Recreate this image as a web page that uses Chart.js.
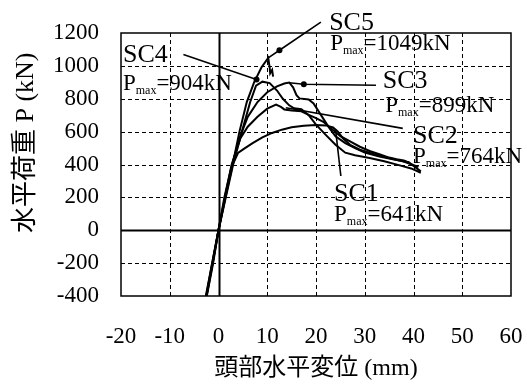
<!DOCTYPE html>
<html><head><meta charset="utf-8">
<script src="https://cdn.jsdelivr.net/npm/chart.js@4.4.1/dist/chart.umd.min.js"></script>
<style>html,body{margin:0;padding:0;background:#fff}</style>
</head><body>
<canvas id="c" width="527" height="389"></canvas>
<script>
// ---- data (mm, kN) ----
const xTicks = [-20, -10, 0, 10, 20, 30, 40, 50, 60];
const yTicks = [-400, -200, 0, 200, 400, 600, 800, 1000, 1200];
const specimens = ['SC1', 'SC2', 'SC3', 'SC4', 'SC5'];
const pMax = [641, 764, 899, 904, 1049];

const sc1 = [[-2.4,-395],[-1.2,-200],[0,0],[1.2,200],[2.6,380],[4,470],[5.2,495],[7,530],[9,565],[11,592],[13,612],[15,626],[17.5,636],[20,641],[22,638],[23.5,625],[24.5,600],[25.5,560],[27,520],[29,490],[32,462],[35,440],[38,418],[41,385]];
const sc2 = [[-2.5,-400],[-1.3,-200],[0,0],[1.3,200],[2.7,400],[4.5,560],[6,630],[8,690],[10,740],[11.8,764],[12.8,750],[13.5,735],[15,728],[17,724],[18.5,702],[20,682],[21.5,660],[23,622],[25,572],[27,540],[29,508],[31,482],[33,462],[35,442],[36.5,432],[38,424],[39.2,410]];
const sc3 = [[-2.5,-400],[-1.2,-200],[0,0],[1.4,200],[2.8,400],[4.3,560],[6,690],[8,780],[10,840],[12,875],[13.5,893],[14.5,899],[15.3,870],[16,822],[16.6,802],[18.5,796],[19.5,772],[21,702],[22.5,632],[24,572],[26,530],[28,500],[30,472],[33,448],[36,430],[39,414],[41.5,358]];
const sc4 = [[-2.4,-400],[-1.1,-200],[0,0],[1.5,200],[3,400],[4.8,600],[6.5,780],[7.7,880],[9,904],[10.5,895],[12,850],[13.2,800],[14.5,760],[15.5,742],[17,736],[18.5,700],[20,642],[22,580],[24,520],[26,472],[28,456],[31,440],[34,420],[37,396],[39.5,376],[41.5,350]];
const sc5 = [[-2.6,-400],[-1.3,-200],[0,0],[1.4,200],[2.9,400],[4.3,600],[5.8,780],[7.3,900],[8.8,990],[10.2,1049],[10.5,990],[10.6,955],[11.0,975],[11.2,935]];
const curves = [sc1, sc2, sc3, sc4, sc5];

// leader lines from the curves to the labels
const lead1 = [[24,615],[25.1,330]];
const lead2 = [[13.8,745],[37.8,620]];
const lead3 = [[14.5,897],[17.5,888],[32.3,882]];
const lead4 = [[-7.2,1069],[7.8,917]];
const lead5 = [[10.2,1049],[12.5,1095],[21,1266]];
const leaders = [lead1, lead2, lead3, lead4, lead5];
const leaderDots = [[0,0],[0,0],[0,3,0],[0,3],[0,3,0]];

// label anchors (left x, baseline y in data units): name line, Pmax line
const labelPlace = [
  [23.7, 179, 23.7, 57],
  [39.9, 533, 39.9, 411],
  [33.7, 868, 34.2, 722],
  [-19.6, 1026, -19.6, 856],
  [22.7, 1221, 22.9, 1099]
];

const toXY = a => a.map(p => ({x: p[0], y: p[1]}));
const SERIF = "'Liberation Serif','Times New Roman',serif";
const TITLEF = "'Liberation Serif','Noto Sans CJK JP',serif";

const datasets = [];
curves.forEach((c, i) => datasets.push({
  label: specimens[i], data: toXY(c), showLine: true, borderColor: '#000',
  borderWidth: 2, pointRadius: 0, tension: 0, fill: false
}));
leaders.forEach((l, i) => datasets.push({
  label: 'leader ' + specimens[i], data: toXY(l), showLine: true, borderColor: '#000',
  borderWidth: 1.6, pointRadius: leaderDots[i], pointBackgroundColor: '#000',
  pointBorderWidth: 0, clip: false, fill: false
}));

// grid drawn from the tick arrays through the chart's scales
const gridPlugin = {
  id: 'dashGrid',
  beforeDatasetsDraw(chart) {
    const {ctx, chartArea: a, scales: {x, y}} = chart;
    const line = (x1, y1, x2, y2, w, dash) => {
      ctx.save();
      ctx.strokeStyle = '#000';
      ctx.lineWidth = w;
      ctx.setLineDash(dash);
      ctx.beginPath(); ctx.moveTo(x1, y1); ctx.lineTo(x2, y2); ctx.stroke();
      ctx.restore();
    };
    xTicks.forEach(v => {
      const p = Math.round(x.getPixelForValue(v)) + 0.5;
      if (v === 0) line(p, a.top, p, a.bottom, 2, []);
      else if (v !== xTicks[0] && v !== xTicks[xTicks.length - 1]) line(p, a.top, p, a.bottom, 1, [4, 3]);
    });
    yTicks.forEach(v => {
      const p = Math.round(y.getPixelForValue(v)) + 0.5;
      if (v === 0) line(a.left, p, a.right, p, 2, []);
      else if (v !== yTicks[0] && v !== yTicks[yTicks.length - 1]) line(a.left, p, a.right, p, 1, [4, 3]);
    });
    ctx.save();
    ctx.strokeStyle = '#000'; ctx.lineWidth = 1.5; ctx.setLineDash([]);
    ctx.strokeRect(a.left, a.top, a.right - a.left, a.bottom - a.top);
    ctx.restore();
  }
};

const labelPlugin = {
  id: 'pmaxLabels',
  afterDatasetsDraw(chart) {
    const {ctx, scales: {x, y}} = chart;
    ctx.save();
    ctx.fillStyle = '#000';
    ctx.textBaseline = 'alphabetic';
    ctx.textAlign = 'left';
    specimens.forEach((name, i) => {
      const pl = labelPlace[i];
      ctx.font = '26px ' + SERIF;
      ctx.fillText(name, x.getPixelForValue(pl[0]), y.getPixelForValue(pl[1]));
      let px = x.getPixelForValue(pl[2]);
      const py = y.getPixelForValue(pl[3]);
      ctx.font = '23px ' + SERIF;
      ctx.fillText('P', px, py);
      px += ctx.measureText('P').width;
      ctx.font = '12px ' + SERIF;
      ctx.fillText('max', px, py + 4);
      px += ctx.measureText('max').width;
      ctx.font = '23px ' + SERIF;
      ctx.fillText('=' + pMax[i] + 'kN', px, py);
    });
    ctx.restore();
  }
};

new Chart(document.getElementById('c'), {
  type: 'scatter',
  data: {datasets},
  plugins: [gridPlugin, labelPlugin],
  options: {
    responsive: false, animation: false, devicePixelRatio: 1,
    layout: {padding: {top: 33, right: 16, left: 0, bottom: 0}},
    plugins: {legend: {display: false}, tooltip: {enabled: false}},
    scales: {
      x: {
        type: 'linear', min: xTicks[0], max: xTicks[xTicks.length - 1],
        afterFit: s => { s.height = 93; s.paddingLeft = 0; s.paddingRight = 0; },
        ticks: {stepSize: 10, color: '#000', padding: 27, font: {family: SERIF, size: 23}, callback: v => String(v)},
        grid: {display: false, drawTicks: false},
        border: {display: false},
        title: {display: true, text: '頭部水平変位 (mm)', color: '#000', font: {family: TITLEF, size: 24}, padding: {top: 0, bottom: 6}}
      },
      y: {
        type: 'linear', min: yTicks[0], max: yTicks[yTicks.length - 1],
        afterFit: s => { s.width = 121; s.paddingTop = 0; s.paddingBottom = 0; },
        ticks: {stepSize: 200, color: '#000', padding: 22, font: {family: SERIF, size: 23}, callback: v => String(v)},
        grid: {display: false, drawTicks: false},
        border: {display: false},
        title: {display: true, text: '水平荷重 P (kN)   ', color: '#000', align: 'end', font: {family: TITLEF, size: 26}, padding: {top: 11, bottom: 0}}
      }
    }
  }
});
</script>
</body></html>
